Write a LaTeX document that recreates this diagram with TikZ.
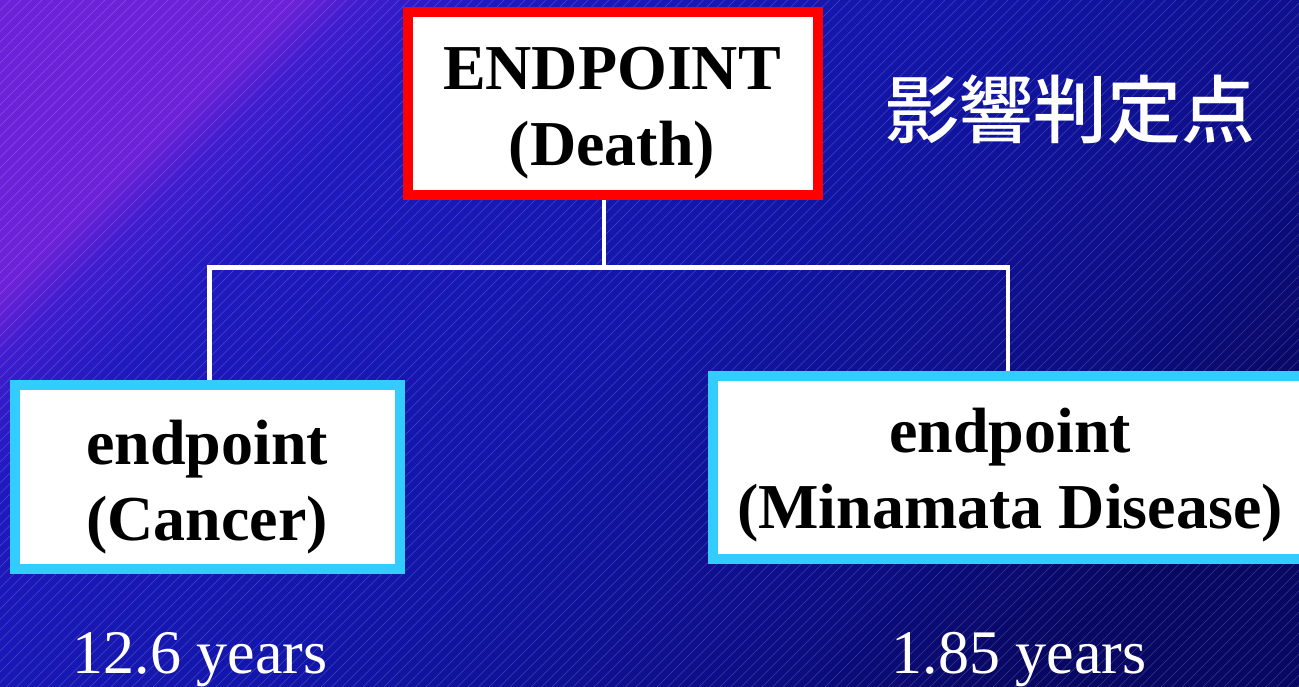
\documentclass[tikz,border=0pt]{standalone}
\usepackage{fontspec}
\setmainfont{Liberation Serif}
\newfontfamily\cjk{Noto Sans CJK JP Medium}
\definecolor{c1}{RGB}{108,34,216}
\definecolor{c2}{RGB}{62,28,205}
\definecolor{c3}{RGB}{30,25,190}
\definecolor{c4}{RGB}{18,22,170}
\definecolor{c5}{RGB}{13,14,135}
\definecolor{c6}{RGB}{8,8,100}
\definecolor{boxred}{RGB}{255,0,0}
\definecolor{boxcyan}{RGB}{51,204,255}
\pgfdeclarehorizontalshading{bgshade}{100bp}{color(0bp)=(c1); color(25bp)=(c1); color(27.5bp)=(c2); color(32bp)=(c3); color(48bp)=(c4); color(65bp)=(c5); color(75bp)=(c6); color(100bp)=(c6)}
\tikzset{
  framebox/.style={line width=10pt, fill=white},
  boxtext/.style={font=\bfseries\fontsize{64}{76}\selectfont, align=center, anchor=base, text=black},
  yeartext/.style={font=\fontsize{62}{70}\selectfont, anchor=base, text=white},
  wire/.style={draw=white, line width=4.5pt, line cap=rect},
  hatch/.style={draw=white, opacity=0.2, line width=0.5pt}
}
\begin{document}
\begin{tikzpicture}[x=1pt,y=-1pt]
\useasboundingbox (0,0) rectangle (1299,686);
\shade[shading=bgshade, shading angle=-45] (0,0) rectangle (1299,686);
\begin{scope}
\clip (0,0) rectangle (1299,686);
\foreach \c in {0,10.5,...,2000} {
  \draw[hatch] (\c,0) -- (\c-700,700);
}
\end{scope}
% anchor points
\coordinate (topb) at (604,195);
\coordinate (leftt) at (209.5,385);
\coordinate (rightt) at (1008,375.5);
\coordinate (mid) at (604,267.5);
% connectors (drawn below the boxes)
\draw[wire] (topb) -- (mid);
\draw[wire] (leftt |- mid) -- (rightt |- mid);
\draw[wire] (leftt |- mid) -- (leftt);
\draw[wire] (rightt |- mid) -- (rightt);
% boxes
\draw[framebox, draw=boxred] (408,12) rectangle (818,195);
\draw[framebox, draw=boxcyan] (15,385) rectangle (400,569);
\draw[framebox, draw=boxcyan] (713,375.5) rectangle (1320,558.5);
% texts
\node[boxtext] (toptext) at (612,165) {ENDPOINT\\(Death)};
\node[boxtext] (lefttext) at (207,540) {endpoint\\(Cancer)};
\node[boxtext] (righttext) at (1010,528) {endpoint\\(Minamata Disease)};
\node[yeartext] (ly) at (200,673) {12.6 years};
\node[yeartext] (ry) at (1019,673) {1.85 years};
\node[font=\cjk\fontsize{74}{80}\selectfont, text=white] (jp) at (1070,110) {影響判定点};
\end{tikzpicture}
\end{document}
